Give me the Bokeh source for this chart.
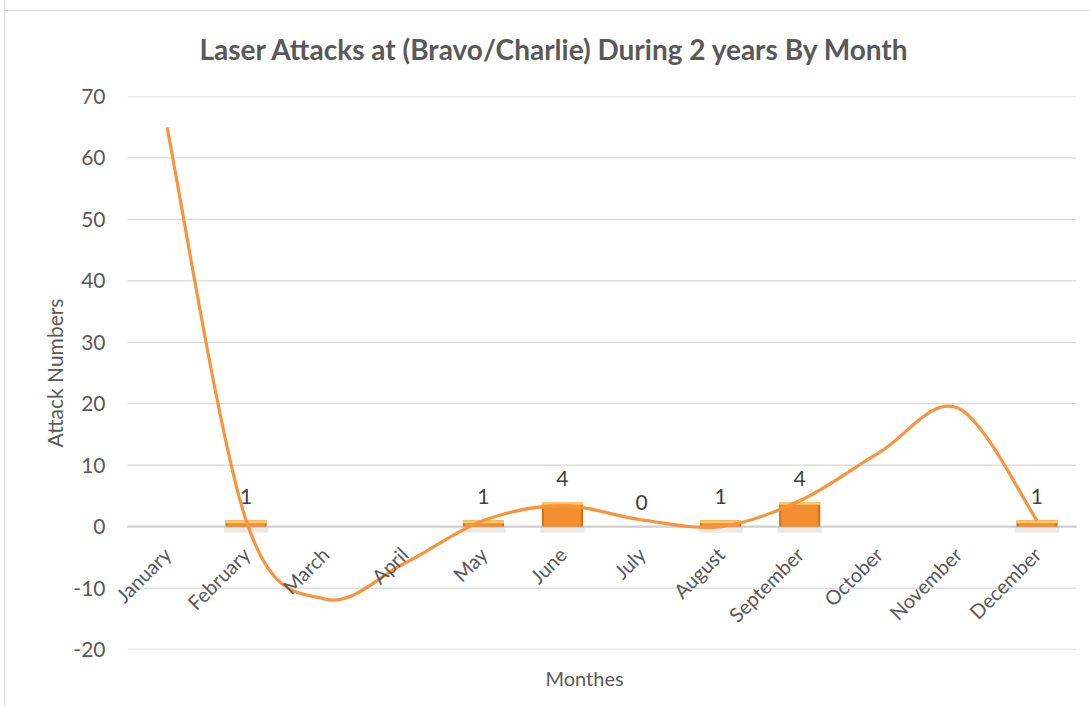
import math
from bokeh.plotting import figure
from bokeh.models import (Range1d, FixedTicker, ColumnDataSource, Title)
from bokeh.core.properties import value
from bokeh.embed import file_html
from bokeh.resources import INLINE

# ---------------- data ----------------
months = ["January", "February", "March", "April", "May", "June", "July",
          "August", "September", "October", "November", "December"]
bar_months = ["February", "May", "June", "July", "August", "September", "December"]
bar_values = [1, 1, 4, 0, 1, 4, 1]
line_values = [65, 1, -11.8, -6, 1, 3.4, 1.1, 0, 4.2, 12, 19.3, 1]
y_ticks = [-20, -10, 0, 10, 20, 30, 40, 50, 60, 70]
title_text = "Laser Attacks at (Bravo/Charlie) During 2 years By Month"
x_title = "Monthes"
y_title = "Attack Numbers"

FONT = "Lato"
GREY = "#595959"
n = len(months)

# frame is extended a little to the left so the first rotated label is not clipped
p = figure(width=1086, height=707, output_backend="svg", toolbar_location=None,
           x_range=Range1d(-0.253, n), y_range=Range1d(-20, 70),
           min_border_left=102, min_border_right=15, min_border_top=96,
           min_border_bottom=58)
p.margin = (0, 0, 0, 4)
p.styles = {
    "border-left": "1px solid #D9D9D9",
    "background": "linear-gradient(#D9D9D9, #D9D9D9) no-repeat 0px 10px / 100% 1px, white",
}
p.outline_line_color = None
p.background_fill_color = "white"
p.border_fill_alpha = 0

# title
p.title.text = title_text
p.title.text_font = FONT
p.title.text_font_size = "28px"
p.title.text_font_style = "bold"
p.title.text_color = GREY
p.title.align = "left"
p.title.offset = 92
p.title.vertical_align = "middle"
p.title.standoff = 59

# axes
p.xaxis.visible = False
yax = p.yaxis[0]
yax.ticker = FixedTicker(ticks=y_ticks)
yax.major_label_overrides = {t: str(t) for t in y_ticks}
yax.axis_line_color = None
yax.major_tick_line_color = None
yax.minor_tick_line_color = None
yax.major_tick_out = 0
yax.major_label_standoff = 2
yax.major_label_text_font = FONT
yax.major_label_text_font_size = "21px"
yax.major_label_text_color = GREY
yax.axis_label = y_title
yax.axis_label_text_font = FONT
yax.axis_label_text_font_size = "21px"
yax.axis_label_text_font_style = "normal"
yax.axis_label_text_color = GREY
yax.axis_label_standoff = 3

p.xgrid.visible = False
p.ygrid.visible = False

# x axis title below the plot
p.add_layout(Title(text=x_title, align="left", offset=438, standoff=29,
                   text_font=FONT, text_font_size="20px",
                   text_font_style="normal", text_color=GREY), "below")

# horizontal gridlines across the category span
grid_src = ColumnDataSource(dict(x0=[0] * len(y_ticks), x1=[n] * len(y_ticks),
                                 y=y_ticks))
p.segment(x0="x0", x1="x1", y0="y", y1="y", source=grid_src,
          line_color="#D9D9D9", line_width=1.3)
# category axis line at zero
p.segment(x0=[0], x1=[n], y0=[0], y1=[0], line_color="#D0D0D0", line_width=2.2)

# bars (with a soft shadow below the non-empty ones)
bx = [months.index(m) + 0.5 for m in bar_months]
src = ColumnDataSource(dict(
    x=bx, top=bar_values, lab=[str(v) for v in bar_values],
    shadow=[-1.0 if v > 0 else 0 for v in bar_values],
    strip=[max(v - 0.45, 0) for v in bar_values]))
p.vbar(x="x", top=0, bottom="shadow", width=0.56, source=src, fill_color="#BFBFBF",
       fill_alpha=0.35, line_color=None)
p.vbar(x="x", top="top", bottom=0, width=0.52, source=src,
       fill_color="#D46F17", line_color=None)
p.vbar(x="x", top="top", bottom=0, width=0.47, source=src,
       fill_color="#F08E30", line_color=None)
p.vbar(x="x", top="top", bottom="strip", width=0.52, source=src,
       fill_color="#FFC866", line_color=None)

# smoothed line (Catmull-Rom style bezier segments through the values)
xs = [i + 0.5 for i in range(n)]
ys = line_values
seg = dict(x0=[], y0=[], x1=[], y1=[], cx0=[], cy0=[], cx1=[], cy1=[])
for i in range(n - 1):
    i0 = max(i - 1, 0)
    i3 = min(i + 2, n - 1)
    seg["x0"].append(xs[i]); seg["y0"].append(ys[i])
    seg["x1"].append(xs[i + 1]); seg["y1"].append(ys[i + 1])
    seg["cx0"].append(xs[i] + (xs[i + 1] - xs[i0]) / 6)
    seg["cy0"].append(ys[i] + (ys[i + 1] - ys[i0]) / 6)
    seg["cx1"].append(xs[i + 1] - (xs[i3] - xs[i]) / 6)
    seg["cy1"].append(ys[i + 1] - (ys[i3] - ys[i]) / 6)
p.bezier(x0="x0", y0="y0", x1="x1", y1="y1", cx0="cx0", cy0="cy0",
         cx1="cx1", cy1="cy1", source=ColumnDataSource(seg),
         line_color="#F7953F", line_width=3.2)

# data labels
p.text(x="x", y="top", text="lab", source=src, text_font=value(FONT),
       text_font_size="21px", text_color="#404040", text_align="center",
       text_baseline="middle", y_offset=-24)

# month labels (category axis crossing at zero)
msrc = ColumnDataSource(dict(x=xs, y=[0] * n, t=months))
p.text(x="x", y="y", text="t", source=msrc, text_font=value(FONT),
       text_font_size="20px", text_color=GREY, text_align="right",
       text_baseline="middle", angle=math.pi / 4, x_offset=0, y_offset=24)

open("out.html", "w").write(file_html(p, INLINE))
